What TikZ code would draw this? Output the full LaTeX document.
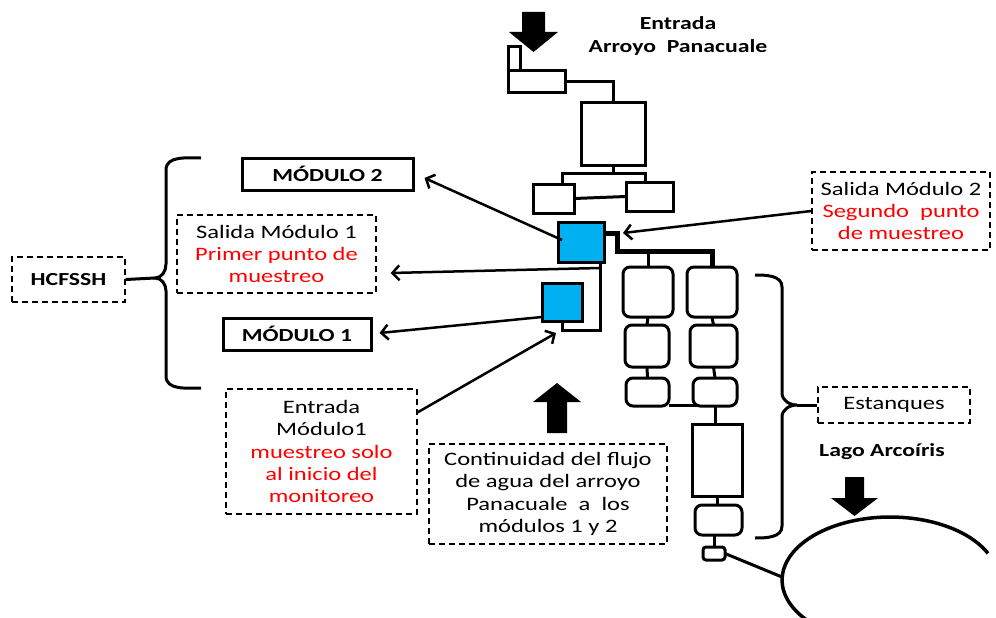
\documentclass[tikz,border=0pt]{standalone}
\usepackage{fontspec}
\setmainfont{Carlito}[FakeStretch=1.29]
\usetikzlibrary{arrows.meta,calc}
\definecolor{mblue}{RGB}{0,176,240}
\definecolor{mred}{RGB}{255,0,0}
\newcommand\bodyfnt{\fontsize{19}{22.4}\selectfont}
\newcommand\lblfnt{\bfseries\fontsize{18.4}{23}\selectfont}
\tikzset{
 tank/.style={draw,line width=3pt,inner sep=0pt,outer sep=0pt},
 rtank/.style={tank,rounded corners=7pt},
 btank/.style={tank,fill=mblue},
 pipe/.style={line width=3pt},
 thickpipe/.style={line width=5pt},
 conn/.style={line width=2.5pt,-{Straight Barb[length=7pt,width=15pt,line width=2.5pt]}},
 dbox/.style={draw,dashed,dash pattern=on 6pt off 4pt,line width=1.4pt,inner sep=0pt,align=center,font=\bodyfnt},
 sbox/.style={draw,line width=3pt,inner sep=0pt,font=\lblfnt},
 brace/.style={line width=3pt},
}
\begin{document}
\begin{tikzpicture}[x=1pt,y=-1pt]
\useasboundingbox (0,0) rectangle (996,618);
% ---------- tanks ----------
\node[tank,minimum width=12pt,minimum height=24pt] (inN) at (514,59) {};
\node[tank,minimum width=57pt,minimum height=21pt] (inW) at (536.5,81.5) {};
\node[tank,minimum width=64pt,minimum height=63pt] (big1) at (613,133.5) {};
\node[tank,minimum width=41pt,minimum height=29pt] (sL) at (553.5,198.5) {};
\node[tank,minimum width=47pt,minimum height=29pt] (sR) at (649.5,196.5) {};
\node[btank,minimum width=46pt,minimum height=40pt] (m2) at (581,242) {};
\node[btank,minimum width=40pt,minimum height=38pt] (m1) at (562,302) {};
\node[rtank,minimum width=50pt,minimum height=50pt] (L1) at (648,292) {};
\node[rtank,minimum width=44pt,minimum height=42pt] (L2) at (647,346) {};
\node[rtank,minimum width=43pt,minimum height=28pt] (L3) at (647.5,392) {};
\node[rtank,minimum width=50pt,minimum height=50pt] (R1) at (712,292) {};
\node[rtank,minimum width=47pt,minimum height=42pt] (R2) at (713.5,346) {};
\node[rtank,minimum width=44pt,minimum height=28pt] (R3) at (715,392) {};
\node[tank,minimum width=50pt,minimum height=72pt] (big2) at (717,460) {};
\node[rtank,minimum width=47pt,minimum height=30pt] (P) at (718.5,520) {};
\node[tank,rounded corners=3pt,minimum width=22pt,minimum height=13pt] (sm) at (714,553.5) {};
% ---------- pipes ----------
\coordinate (j1) at (613,173);
\coordinate (t) at (617,251);
\draw[pipe] (inW.east) -| (big1.north);
\draw[pipe] (big1.south) -- (j1);
\draw[pipe] ($(sL.north)+(8.5,0)$) |- (j1) -| ($(sR.north)+(-4.5,0)$);
\draw[pipe] (sL.east) -- (sR.west);
\draw[pipe] ($(sL.south)+(-4.5,0)$) -- ($(sL.south)+(-4.5,0)$ |- m1.north);
\draw[pipe] (m1.south) -- ++(0,9) -| ($(m2.south)+(19,0)$);
\draw[thickpipe] ($(m2.east)+(0,-9)$) -| (t) -| (R1.north);
\draw[pipe] (L1.north) -- (L1.north |- t);
\draw[pipe] (L1.south) -- (L2.north);
\draw[pipe] (L2.south) -- (L3.north);
\draw[pipe] (R1.south) -- (R2.north);
\draw[pipe] (R2.south) -- (R3.north);
\draw[pipe] ($(L3.south east)+(0,-1)$) -- ($(R3.south west)+(4,-1)$);
\draw[pipe] (R3.south) -- (R3.south |- big2.north);
\draw[pipe] (big2.south) -- (big2.south |- P.north);
\draw[pipe] (sm.north |- P.south) -- (sm.north);
% ---------- lake ----------
\coordinate (lake) at (782,577);
\begin{scope}
\clip (0,0) rectangle (996,618);
\draw[line width=3.5pt] (988,553.4) arc[start angle=-25,end angle=-235,x radius=108,y radius=63];
\end{scope}
\draw[pipe] (sm.east) -- (lake);
% ---------- block arrows ----------
\fill (522,12) -- (545,12) -- (545,32) -- (558,32) -- (533.5,52) -- (509,32) -- (522,32) -- cycle;
\fill (547,433) -- (567,433) -- (567,402) -- (581,402) -- (557,383) -- (533,402) -- (547,402) -- cycle;
\fill (845,477) -- (864,477) -- (864,498) -- (878,498) -- (854.5,516) -- (831,498) -- (845,498) -- cycle;
% ---------- labels ----------
\node[font=\lblfnt,align=center] (entrada) at (678,36) {Entrada\\Arroyo\ \ Panacuale};
\node[font=\lblfnt] (lago) at (882,452) {Lago Arcoíris};
\node[sbox,minimum width=171pt,minimum height=32pt] (mod2) at (327.5,174) {MÓDULO 2};
\node[sbox,minimum width=148pt,minimum height=32pt] (mod1) at (297,334) {MÓDULO 1};
\node[dbox,minimum width=199pt,minimum height=78pt] (sal1) at (276.5,254) {Salida Módulo 1\\\textcolor{mred}{Primer punto de}\\\textcolor{mred}{muestreo}};
\node[dbox,minimum width=113pt,minimum height=45pt,font=\lblfnt] (hcf) at (68.5,279.5) {HCFSSH};
\node[dbox,minimum width=191pt,minimum height=125pt] (ent1) at (321.5,451.5) {Entrada\\Módulo1\\\textcolor{mred}{muestreo solo}\\\textcolor{mred}{al inicio del}\\\textcolor{mred}{monitoreo}};
\node[dbox,minimum width=238pt,minimum height=100pt] (cont) at (548,494) {Continuidad del flujo\\de agua del arroyo\\Panacuale\ \ a\ \ los\\módulos 1 y 2};
\node[dbox,minimum width=178pt,minimum height=78pt] (sal2) at (901,211) {Salida Módulo 2\\\textcolor{mred}{Segundo\ \ punto}\\\textcolor{mred}{de muestreo}};
\node[dbox,minimum width=152pt,minimum height=36pt] (est) at (894,405) {Estanques};
% ---------- braces ----------
\coordinate (lbtip) at (155,278);
\draw[brace] (201,158) to[out=180,in=90] (166,170) -- (166,264) to[out=-90,in=0] (lbtip) to[out=0,in=90] (166,291) -- (166,376) to[out=-90,in=180] (201,388);
\draw[brace] (hcf.east) -- (lbtip);
\coordinate (rbtip) at (797,405);
\draw[brace] (755,275) to[out=0,in=90] (782,287) -- (782,393) to[out=-90,in=180] (rbtip) to[out=180,in=90] (782,417) -- (782,526) to[out=-90,in=0] (755,538);
\draw[brace] (rbtip) -- (est.west);
% ---------- connectors ----------
\draw[conn] ($(m2.west)+(4,-2)$) -- ($(mod2.east)+(10,4)$);
\draw[conn] ($(m2.south)+(19,6)$) -- ($(sal1.east)+(14,19)$);
\draw[conn] ($(m1.west)+(0,15)$) -- ($(mod1.east)+(7,-1)$);
\draw[conn] ($(ent1.north east)+(0,24)$) -- ($(m1.south)+(-6,12)$);
\draw[conn] (sal2.west) -- ($(m2.east)+(19,-9)$);
\end{tikzpicture}
\end{document}
